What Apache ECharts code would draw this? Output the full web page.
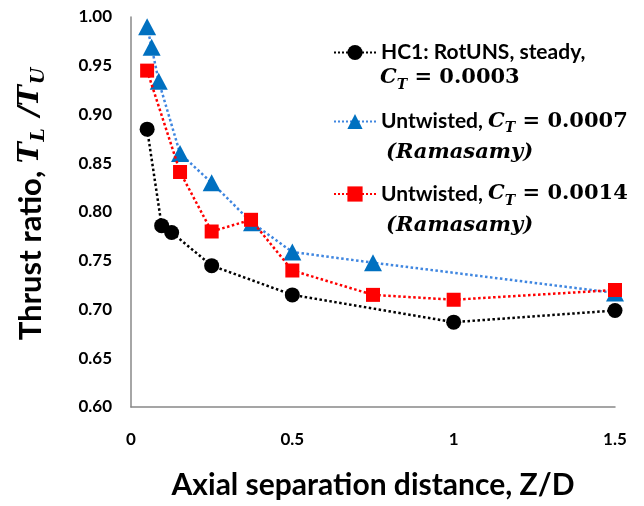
<!DOCTYPE html>
<html>
<head>
<meta charset="utf-8">
<script src="https://cdn.jsdelivr.net/npm/echarts@6/dist/echarts.min.js"></script>
<style>html,body{margin:0;padding:0;background:#fff}#c{width:644px;height:506px}</style>
</head>
<body>
<div id="c"></div>
<script>
// Data
const hc1X = [0.05, 0.095, 0.126, 0.25, 0.5, 1.0, 1.5];
const hc1Y = [0.885, 0.786, 0.779, 0.745, 0.715, 0.687, 0.699];
const ct07X = [0.05, 0.064, 0.086, 0.152, 0.25, 0.375, 0.5, 0.75, 1.5];
const ct07Y = [0.990, 0.969, 0.934, 0.860, 0.830, 0.789, 0.759, 0.748, 0.717];
const ct14X = [0.05, 0.152, 0.25, 0.372, 0.5, 0.75, 1.0, 1.5];
const ct14Y = [0.945, 0.841, 0.780, 0.792, 0.740, 0.715, 0.710, 0.720];
const xTicks = [0, 0.5, 1, 1.5];
const yTicks = [0.60, 0.65, 0.70, 0.75, 0.80, 0.85, 0.90, 0.95, 1.00];

const seriesNames = ['HC1: RotUNS, steady, C_T = 0.0003', 'Untwisted, C_T = 0.0007 (Ramasamy)', 'Untwisted, C_T = 0.0014 (Ramasamy)'];
const legendLine1 = {
  'HC1: RotUNS, steady, C_T = 0.0003': '{s|HC1: RotUNS, steady,}',
  'Untwisted, C_T = 0.0007 (Ramasamy)': '{s|Untwisted, }{m|C}{sub|T}{n| = 0.0007}',
  'Untwisted, C_T = 0.0014 (Ramasamy)': '{s|Untwisted, }{m|C}{sub|T}{n| = 0.0014}'
};

function pairs(xs, ys) { return xs.map((x, i) => [x, ys[i]]); }

const SANS = 'Lato';
const SERIF = 'DejaVu Serif';
const legendRich = {
  s: {fontFamily: SANS, fontWeight: 'bold', fontSize: 21, lineHeight: 28, color: '#000'},
  m: {fontFamily: SERIF, fontWeight: 'bold', fontStyle: 'italic', fontSize: 21, lineHeight: 28, color: '#000'},
  sub: {fontFamily: SERIF, fontWeight: 'bold', fontStyle: 'italic', fontSize: 14, lineHeight: 16, verticalAlign: 'bottom', color: '#000'},
  n: {fontFamily: SERIF, fontWeight: 'bold', fontSize: 21, lineHeight: 28, color: '#000'}
};

const chart = echarts.init(document.getElementById('c'), null, {renderer: 'canvas'});
chart.setOption({
  animation: false,
  backgroundColor: '#fff',
  grid: {left: 131, top: 17, right: 29, bottom: 99, containLabel: false},
  xAxis: {
    type: 'value', min: 0, max: 1.5, interval: 0.5,
    name: 'Axial separation distance, Z/D', nameLocation: 'middle', nameGap: 63,
    nameTextStyle: {fontFamily: SANS, fontWeight: 'bold', fontSize: 30, color: '#000'},
    axisLine: {show: true, lineStyle: {color: '#888', width: 1.5}},
    axisTick: {show: false},
    splitLine: {show: false},
    axisLabel: {margin: 24, fontFamily: SANS, fontWeight: 'bold', fontSize: 17, color: '#000',
      formatter: v => { const t = xTicks.find(k => Math.abs(k - v) < 1e-9); return t === undefined ? '' : String(t); }}
  },
  yAxis: {
    type: 'value', min: 0.6, max: 1.0, interval: 0.05,
    name: '{s|Thrust ratio, }{m|T}{sub|L}{m| /T}{sub|U}', nameLocation: 'middle', nameGap: 82,
    nameTextStyle: {
      padding: [0, 0, 0, 18],
      rich: {
        s: {fontFamily: SANS, fontWeight: 'bold', fontSize: 31, lineHeight: 36, color: '#000'},
        m: {fontFamily: SERIF, fontWeight: 'bold', fontStyle: 'italic', fontSize: 28, lineHeight: 36, color: '#000', padding: [0, 1, 0, 0]},
        sub: {fontFamily: SERIF, fontWeight: 'bold', fontStyle: 'italic', fontSize: 19, lineHeight: 24, verticalAlign: 'bottom', color: '#000', padding: [0, 2, 0, 0]}
      }
    },
    axisLine: {show: true, lineStyle: {color: '#888', width: 1.5}},
    axisTick: {show: false},
    splitLine: {show: false},
    axisLabel: {margin: 19, fontFamily: SANS, fontWeight: 'bold', fontSize: 17, color: '#000',
      formatter: v => { const t = yTicks.find(k => Math.abs(k - v) < 1e-9); return t === undefined ? '' : t.toFixed(2); }}
  },
  legend: {
    orient: 'vertical', left: 333, top: 42, padding: 0,
    itemWidth: 42, itemHeight: 19, itemGap: 48,
    data: seriesNames,
    formatter: name => legendLine1[name],
    textStyle: {rich: legendRich},
    selectedMode: false
  },
  graphic: [
    {type: 'text', x: 380, y: 78, style: {text: '{m|C}{sub|T}{n| = 0.0003}', rich: legendRich, verticalAlign: 'middle'}},
    {type: 'text', x: 386, y: 153, style: {text: '{m|(Ramasamy)}', rich: legendRich, verticalAlign: 'middle'}},
    {type: 'text', x: 386, y: 226, style: {text: '{m|(Ramasamy)}', rich: legendRich, verticalAlign: 'middle'}}
  ],
  series: [
    {
      name: seriesNames[0], type: 'line', data: pairs(hc1X, hc1Y),
      symbol: 'circle', symbolSize: 15,
      lineStyle: {color: '#000', width: 2.5, type: 'dotted'},
      itemStyle: {color: '#000'}, z: 2
    },
    {
      name: seriesNames[1], type: 'line', data: pairs(ct07X, ct07Y),
      symbol: 'triangle', symbolSize: [18, 17],
      lineStyle: {color: '#3f86e0', width: 2.5, type: 'dotted'},
      itemStyle: {color: '#0070c0'}, z: 3
    },
    {
      name: seriesNames[2], type: 'line', data: pairs(ct14X, ct14Y),
      symbol: 'rect', symbolSize: 14,
      lineStyle: {color: '#ff0000', width: 2.5, type: 'dotted'},
      itemStyle: {color: '#ff0000'}, z: 4
    }
  ]
});
</script>
</body>
</html>
